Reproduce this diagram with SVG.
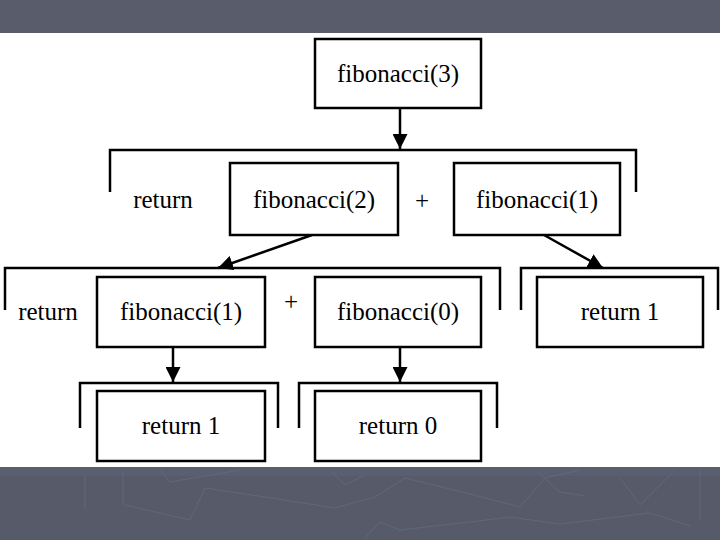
<svg xmlns="http://www.w3.org/2000/svg" width="720" height="540" viewBox="0 0 720 540">
<defs>
<style>
.box{fill:#fff;stroke:#000;stroke-width:2.5}
.t{font-family:"Liberation Serif","Times New Roman",serif;font-size:25px;fill:#000;text-anchor:middle}
.br{fill:none;stroke:#000;stroke-width:2.5}
.ln{fill:none;stroke:#000;stroke-width:2.5}
.deco{fill:none;stroke:#62667a;stroke-width:1}
</style>
<marker id="ah" viewBox="0 0 10 10" refX="10" refY="5" markerWidth="6" markerHeight="6" markerUnits="strokeWidth" orient="auto">
<path d="M0,0 L10,5 L0,10 Z" fill="#000"/>
</marker>
</defs>
<rect x="0" y="0" width="720" height="540" fill="#fff"/>
<rect x="0" y="0" width="720" height="33" fill="#585c6b"/>
<rect x="0" y="467" width="720" height="73" fill="#575b69"/>
<rect x="0" y="467" width="720" height="9" fill="#5a5f70"/>
<g id="decoration">
<polyline class="deco" points="125,505 190,520 205,488 265,497 335,508 375,497 405,478 470,494 520,507 545,478 580,470"/>
<polyline class="deco" points="365,538 380,522 400,530 470,522 510,517 560,524 650,513 690,526"/>
<polyline class="deco" points="330,470 345,485 365,475"/>
<polyline class="deco" points="160,470 170,482 240,470"/>
<polyline class="deco" points="535,470 560,492 585,496"/>
<polyline class="deco" points="620,478 640,505 675,470"/>
<line class="deco" x1="123" y1="470" x2="123" y2="505"/>
<line class="deco" x1="85" y1="475" x2="85" y2="510"/>
<line class="deco" x1="700" y1="470" x2="700" y2="520"/>
</g>
<g id="brackets">
<polyline class="br" points="110,192 110,150 636,150 636,192"/>
<polyline class="br" points="5,310 5,268 500,268 500,310"/>
<polyline class="br" points="521,310 521,268 718,268 718,310"/>
<polyline class="br" points="80,428 80,383 278,383 278,428"/>
<polyline class="br" points="299,428 299,383 497,383 497,428"/>
</g>
<g id="connectors">
<line class="ln" x1="400" y1="108" x2="400" y2="149" marker-end="url(#ah)"/>
<line class="ln" x1="312" y1="235" x2="218" y2="268" marker-end="url(#ah)"/>
<line class="ln" x1="544" y1="235" x2="603" y2="268" marker-end="url(#ah)"/>
<line class="ln" x1="173" y1="348" x2="173" y2="382" marker-end="url(#ah)"/>
<line class="ln" x1="400" y1="348" x2="400" y2="382" marker-end="url(#ah)"/>
</g>
<g id="fib3"><rect class="box" x="315" y="39" width="166" height="69"/><text class="t" x="398" y="82">fibonacci(3)</text></g>
<g id="ret-a"><text class="t" x="163" y="208">return</text></g>
<g id="fib2"><rect class="box" x="230" y="163" width="168" height="72"/><text class="t" x="314" y="208">fibonacci(2)</text></g>
<g id="plus-a"><text class="t" x="422" y="209">+</text></g>
<g id="fib1a"><rect class="box" x="454" y="163" width="166" height="72"/><text class="t" x="537" y="208">fibonacci(1)</text></g>
<g id="ret-b"><text class="t" x="48" y="320">return</text></g>
<g id="fib1b"><rect class="box" x="97" y="277" width="168" height="70"/><text class="t" x="181" y="320">fibonacci(1)</text></g>
<g id="plus-b"><text class="t" x="291" y="310">+</text></g>
<g id="fib0"><rect class="box" x="315" y="277" width="166" height="70"/><text class="t" x="398" y="320">fibonacci(0)</text></g>
<g id="ret1a"><rect class="box" x="537" y="277" width="166" height="70"/><text class="t" x="620" y="320">return 1</text></g>
<g id="ret1b"><rect class="box" x="97" y="391" width="168" height="70"/><text class="t" x="181" y="434">return 1</text></g>
<g id="ret0"><rect class="box" x="315" y="391" width="166" height="70"/><text class="t" x="398" y="434">return 0</text></g>
</svg>
